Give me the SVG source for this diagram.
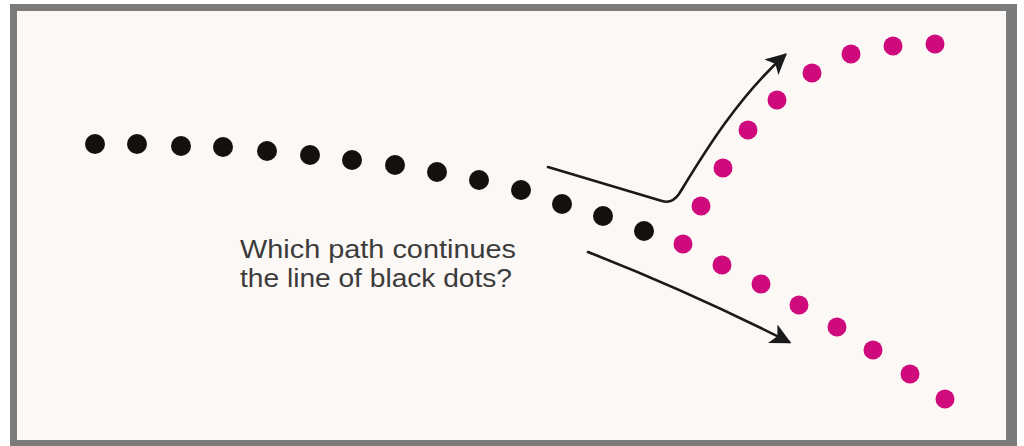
<svg xmlns="http://www.w3.org/2000/svg" width="1024" height="446" viewBox="0 0 1024 446">
<defs>
<style>
.blk{fill:#141010}
.pnk{fill:#cf0a7c}
.arr{fill:none;stroke:#1a1a1a;stroke-width:2.6;stroke-linecap:round;stroke-linejoin:round}
.lbl{font-family:"Liberation Sans",Arial,sans-serif;font-size:25px;fill:#3c3c3c}
</style>
<marker id="ah" markerWidth="8" markerHeight="8" refX="7" refY="4" orient="auto" markerUnits="strokeWidth" viewBox="0 0 8 8">
<path d="M0,0 L8,4 L0,8 L2,4 Z" fill="#1a1a1a"/>
</marker>
</defs>
<rect x="0" y="0" width="1024" height="446" fill="#ffffff"/>
<rect x="10" y="4" width="1007" height="442" fill="#7b7b7b"/>
<rect x="17" y="11" width="989" height="429" fill="#fcf8f6"/>
<g id="black-dots">
<circle class="blk" cx="95" cy="144" r="10"/>
<circle class="blk" cx="137" cy="144" r="10"/>
<circle class="blk" cx="181" cy="146" r="10"/>
<circle class="blk" cx="223" cy="147" r="10"/>
<circle class="blk" cx="267" cy="151" r="10"/>
<circle class="blk" cx="310" cy="155" r="10"/>
<circle class="blk" cx="352" cy="160" r="10"/>
<circle class="blk" cx="395" cy="165" r="10"/>
<circle class="blk" cx="437" cy="172" r="10"/>
<circle class="blk" cx="479" cy="180" r="10"/>
<circle class="blk" cx="521" cy="190" r="10"/>
<circle class="blk" cx="562" cy="204" r="10"/>
<circle class="blk" cx="603" cy="216" r="10"/>
<circle class="blk" cx="644" cy="231" r="10"/>
</g>
<g id="pink-upper">
<circle class="pnk" cx="701" cy="206" r="9.5"/>
<circle class="pnk" cx="723" cy="168" r="9.5"/>
<circle class="pnk" cx="748" cy="130" r="9.5"/>
<circle class="pnk" cx="777" cy="100" r="9.5"/>
<circle class="pnk" cx="812" cy="73" r="9.5"/>
<circle class="pnk" cx="851" cy="54" r="9.5"/>
<circle class="pnk" cx="893" cy="46" r="9.5"/>
<circle class="pnk" cx="935" cy="44" r="9.5"/>
</g>
<g id="pink-lower">
<circle class="pnk" cx="683" cy="244" r="9.5"/>
<circle class="pnk" cx="722" cy="265" r="9.5"/>
<circle class="pnk" cx="761" cy="284" r="9.5"/>
<circle class="pnk" cx="799" cy="305" r="9.5"/>
<circle class="pnk" cx="837" cy="327" r="9.5"/>
<circle class="pnk" cx="873" cy="350" r="9.5"/>
<circle class="pnk" cx="910" cy="374" r="9.5"/>
<circle class="pnk" cx="945" cy="399" r="9.5"/>
</g>
<g id="connectors">
<path class="arr" d="M548,167 L662,201 Q672,204 679,194 C700,160 735,100 785,55" marker-end="url(#ah)"/>
<path class="arr" d="M588,252 Q690,292 789,342" marker-end="url(#ah)"/>
</g>
<g id="label">
<text class="lbl" x="240" y="258" textLength="276" lengthAdjust="spacingAndGlyphs">Which path continues</text>
<text class="lbl" x="240" y="287" textLength="272" lengthAdjust="spacingAndGlyphs">the line of black dots?</text>
</g>
</svg>
